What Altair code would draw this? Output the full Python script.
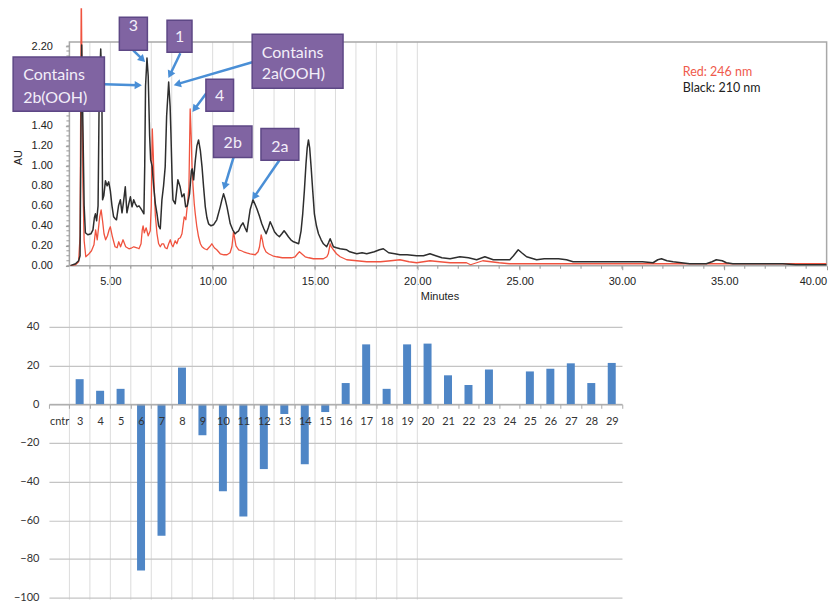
import altair as alt
import pandas as pd
import numpy as np

# ---------------- chromatogram traces (minutes, AU) ----------------
black_t = [3.05, 3.30, 3.45, 3.52, 3.56, 3.60, 3.66, 3.72, 3.78, 3.90, 4.05, 4.15, 4.22, 4.27, 4.33, 4.40,
           4.46, 4.53, 4.58, 4.62, 4.68, 4.76, 4.84, 4.92, 5.00, 5.08, 5.16, 5.24, 5.30, 5.40, 5.49, 5.57,
           5.65, 5.73, 5.81, 5.90, 5.98, 6.06, 6.14, 6.22, 6.31, 6.40, 6.47, 6.56, 6.64, 6.68, 6.72, 6.79,
           6.85, 6.92, 6.97, 7.04, 7.12, 7.20, 7.28, 7.36, 7.44, 7.52, 7.60, 7.68, 7.75, 7.85, 7.92, 7.96,
           8.02, 8.06, 8.17, 8.30, 8.41, 8.50, 8.60, 8.68, 8.76, 8.87, 8.96, 9.00, 9.07, 9.15, 9.23, 9.31,
           9.40, 9.48, 9.56, 9.64, 9.72, 9.80, 9.92, 10.04, 10.20, 10.37, 10.45, 10.53, 10.62, 10.70, 10.86,
           10.98, 11.10, 11.20, 11.27, 11.38, 11.48, 11.58, 11.67, 11.75, 11.83, 11.97, 12.06, 12.16, 12.28,
           12.40, 12.50, 12.61, 12.72, 12.81, 12.92, 13.02, 13.14, 13.26, 13.38, 13.49, 13.60, 13.70, 13.82,
           13.95, 14.08, 14.20, 14.32, 14.40, 14.48, 14.56, 14.62, 14.68, 14.74, 14.81, 14.89, 14.97, 15.07,
           15.17, 15.30, 15.41, 15.57, 15.66, 15.74, 15.82, 15.90, 16.05, 16.23, 16.55, 16.70, 17.04, 17.30,
           17.53, 17.90, 18.15, 18.34, 18.60, 18.90, 19.15, 19.50, 19.97, 20.30, 20.62, 20.90, 21.20, 21.60,
           22.08, 22.50, 22.90, 23.30, 23.71, 24.20, 24.52, 24.70, 24.93, 25.10, 25.34, 25.83, 26.20, 26.47,
           26.90, 27.29, 27.61, 28.30, 28.92, 29.70, 30.54, 31.00, 31.52, 31.75, 31.93, 32.20, 32.50, 32.90,
           33.31, 33.80, 34.12, 34.40, 34.61, 34.90, 35.10, 35.42, 36.00, 37.00, 37.86, 38.50, 39.20, 40.00]
black_v = [0.00, 0.02, 0.05, 0.10, 1.20, 2.21, 1.40, 0.60, 0.33, 0.31, 0.32, 0.36, 0.48, 0.52, 0.45, 0.60,
           1.80, 2.17, 1.90, 0.66, 0.70, 0.85, 0.80, 0.84, 0.75, 0.60, 0.49, 0.47, 0.46, 0.60, 0.66, 0.53,
           0.65, 0.79, 0.53, 0.62, 0.69, 0.59, 0.66, 0.62, 0.59, 0.60, 0.58, 0.55, 0.52, 1.00, 1.80, 2.08,
           1.90, 1.30, 1.06, 1.00, 0.79, 0.62, 0.52, 0.40, 0.37, 0.66, 0.80, 0.99, 1.50, 1.84, 1.60, 1.33,
           0.85, 0.66, 0.62, 0.86, 0.79, 0.69, 0.72, 0.59, 0.60, 0.72, 0.95, 0.97, 0.86, 1.05, 1.20, 1.26,
           1.15, 0.99, 0.78, 0.59, 0.48, 0.42, 0.40, 0.41, 0.46, 0.59, 0.66, 0.72, 0.66, 0.59, 0.42,
           0.36, 0.32, 0.34, 0.35, 0.40, 0.43, 0.38, 0.34, 0.45, 0.56, 0.66, 0.62, 0.57, 0.50,
           0.42, 0.37, 0.32, 0.38, 0.44, 0.39, 0.34, 0.31, 0.29, 0.32, 0.35, 0.32, 0.29, 0.26,
           0.24, 0.23, 0.22, 0.35, 0.52, 0.75, 1.02, 1.18, 1.26, 1.18, 0.99, 0.75, 0.52, 0.40,
           0.32, 0.26, 0.22, 0.19, 0.23, 0.27, 0.23, 0.19, 0.18, 0.17, 0.16, 0.14, 0.12, 0.13,
           0.12, 0.14, 0.16, 0.17, 0.13, 0.12, 0.11, 0.11, 0.10, 0.10, 0.12, 0.10, 0.08, 0.07,
           0.09, 0.08, 0.06, 0.09, 0.06, 0.06, 0.06, 0.10, 0.16, 0.13, 0.09, 0.06, 0.07, 0.07,
           0.07, 0.06, 0.04, 0.04, 0.04, 0.04, 0.04, 0.04, 0.03, 0.06, 0.07, 0.05, 0.04, 0.03,
           0.02, 0.02, 0.02, 0.04, 0.06, 0.05, 0.03, 0.02, 0.02, 0.02, 0.02, 0.01, 0.01, 0.01]

red_t = [3.05, 3.30, 3.45, 3.52, 3.56, 3.58, 3.61, 3.66, 3.72, 3.80, 3.96, 4.08, 4.20, 4.28, 4.36, 4.48,
         4.55, 4.62, 4.69, 4.77, 4.86, 4.94, 5.00, 5.10, 5.23, 5.33, 5.41, 5.50, 5.62, 5.75, 5.91, 6.05,
         6.15, 6.30, 6.40, 6.50, 6.56, 6.60, 6.66, 6.75, 6.85, 6.95, 7.00, 7.05, 7.10, 7.14, 7.20, 7.28,
         7.36, 7.44, 7.52, 7.60, 7.68, 7.77, 7.85, 7.93, 8.00, 8.06, 8.17, 8.25, 8.33, 8.42, 8.50, 8.61,
         8.69, 8.77, 8.84, 8.90, 8.95, 8.99, 9.04, 9.10, 9.15, 9.22, 9.31, 9.40, 9.48, 9.60, 9.72, 9.85,
         9.96, 10.08, 10.20, 10.37, 10.55, 10.70, 10.85, 10.94, 11.02, 11.07, 11.14, 11.27, 11.40, 11.51,
         11.66, 11.83, 12.08, 12.22, 12.29, 12.37, 12.43, 12.49, 12.60, 12.73, 12.93, 13.13, 13.40, 13.62,
         13.85, 14.03, 14.15, 14.24, 14.35, 14.52, 14.70, 14.92, 15.20, 15.41, 15.58, 15.65, 15.74, 15.80,
         15.90, 16.05, 16.23, 16.55, 17.04, 17.53, 18.20, 18.70, 19.15, 19.60, 19.97, 20.62, 21.10, 21.60,
         22.40, 22.60, 23.20, 23.60, 24.00, 24.50, 27.30, 32.00, 36.00, 40.00]
red_v = [0.00, 0.01, 0.04, 0.30, 2.00, 2.80, 2.00, 0.80, 0.25, 0.09, 0.12, 0.15, 0.21, 0.36, 0.26, 0.49,
         0.56, 0.45, 0.32, 0.26, 0.30, 0.36, 0.39, 0.29, 0.19, 0.18, 0.24, 0.19, 0.26, 0.19, 0.17, 0.18,
         0.19, 0.18, 0.17, 0.22, 0.36, 0.40, 0.33, 0.38, 0.30, 0.35, 0.60, 1.37, 1.10, 0.80, 0.50, 0.32,
         0.22, 0.19, 0.22, 0.22, 0.18, 0.17, 0.22, 0.26, 0.21, 0.19, 0.25, 0.22, 0.27, 0.28, 0.32, 0.49,
         0.46, 0.62, 0.79, 1.57, 1.30, 1.00, 0.80, 0.62, 0.52, 0.40, 0.29, 0.22, 0.19, 0.17, 0.16, 0.19,
         0.22, 0.18, 0.16, 0.12, 0.11, 0.11, 0.13, 0.19, 0.34, 0.28, 0.20, 0.16, 0.15, 0.14,
         0.13, 0.12, 0.11, 0.14, 0.19, 0.31, 0.26, 0.19, 0.14, 0.12, 0.10, 0.09, 0.08, 0.08,
         0.08, 0.09, 0.12, 0.14, 0.12, 0.09, 0.08, 0.07, 0.07, 0.07, 0.09, 0.12, 0.22, 0.19,
         0.16, 0.12, 0.09, 0.06, 0.05, 0.04, 0.04, 0.05, 0.06, 0.04, 0.03, 0.05, 0.04, 0.03,
         0.03, 0.01, 0.05, 0.04, 0.03, 0.02, 0.02, 0.02, 0.02, 0.02]

# fraction collection boundaries (minutes)
fraction_edges = list(range(3, 21))

# ---------------- bar chart ----------------
fractions = ["cntr"] + [str(i) for i in range(3, 30)]
change_pct = [0, 13, 7, 8, -86, -68, 19, -16, -45, -58, -33.5, -5, -31, -4, 11, 31, 8, 31,
              31.4, 15, 10, 18, 0, 17, 18.4, 21.2, 11, 21.4]

# y-axis labels that are not hidden behind the "Contains 2b(OOH)" callout
au_labels = [0.0, 0.2, 0.4, 0.6, 0.8, 1.0, 1.2, 1.4, 2.2]

# ---------------- annotations (data units) ----------------
box_x0 = [0.25, 5.44, 7.77, 11.93, 9.67, 10.04, 12.36]
box_x1 = [4.71, 6.81, 8.99, 16.37, 11.02, 11.92, 14.21]
box_y0 = [1.547, 2.157, 2.137, 1.777, 1.547, 1.084, 1.057]
box_y1 = [2.09, 2.487, 2.457, 2.317, 1.867, 1.40, 1.374]

left_text = ["Contains", "2b(OOH)", "Contains", "2a(OOH)"]
left_text_x = [0.74, 0.74, 12.40, 12.40]
left_text_y = [1.907, 1.677, 2.134, 1.924]
center_text = ["3", "1", "4", "2b", "2a"]
center_text_x = [6.13, 8.38, 10.34, 10.98, 13.28]
center_text_y = [2.40, 2.29, 1.70, 1.224, 1.19]

arrow_x1 = [4.71, 6.12, 8.42, 11.93, 9.69, 11.02, 13.26]
arrow_y1 = [1.817, 2.157, 2.127, 2.037, 1.727, 1.084, 1.057]
arrow_x2 = [6.56, 6.71, 7.83, 8.08, 9.00, 10.53, 11.92]
arrow_y2 = [1.807, 2.037, 1.877, 1.807, 1.537, 0.757, 0.657]

legend_text = ["Red: 246 nm", "Black: 210 nm"]
legend_color = ["#ef5a4c", "#222222"]

# ---------------- layout constants ----------------
PXM = 20.49          # px per minute
PXA = 100.0          # px per AU
TOP_W = 38 * PXM
TOP_H = 257.7
BOT_W = 28 * PXM
BOT_H = 271

xs = alt.Scale(domain=[2, 40], nice=False, zero=False)
ys = alt.Scale(domain=[0, 2.577], nice=False, zero=False)

XAX = alt.Axis(
    values=[5, 10, 15, 20, 25, 30, 35, 40], format=".2f", title="Minutes", domain=False,
    tickSize=4, tickColor="#999", labelPadding=6, labelFont="Liberation Sans", labelFontSize=11,
    labelColor="#222", titleFont="Liberation Sans", titleFontSize=11, titleFontWeight="normal",
    titleColor="#222", titleX=391, titleY=31, titleBaseline="middle", grid=False)
YAX = alt.Axis(
    values=au_labels, format=".2f", title="AU", offset=-PXM,
    domain=False, tickSize=4, tickColor="#999", labelPadding=13, labelFont="Liberation Sans",
    labelFontSize=11, labelColor="#222", titleFont="Liberation Sans", titleFontSize=11,
    titleFontWeight="normal", titleColor="#222", titleX=-51, titleY=149, titleBaseline="middle",
    grid=False)


def X(f):
    return alt.X(f, type="quantitative", scale=xs, axis=XAX, title="Minutes")


def Y(f):
    return alt.Y(f, type="quantitative", scale=ys, axis=YAX, title="AU")


frac = alt.Chart(pd.DataFrame({"t": fraction_edges, "top": [2.24] * len(fraction_edges)})).mark_rule(
    color="#dcdcdc", strokeWidth=1
).encode(x=X("t"), y=Y("top"), y2=alt.value(592))

frame = alt.Chart(pd.DataFrame({"x0": [3], "x1": [40], "y0": [0], "y1": [2.24]})).mark_rect(
    fill="transparent", stroke="#a8a8a8", strokeWidth=1.5
).encode(x=X("x0"), x2="x1:Q", y=Y("y0"), y2="y1:Q")

minor_x = alt.Chart(pd.DataFrame({"t": list(range(4, 40))})).mark_rule(color="#999", strokeWidth=1).encode(
    x=X("t"), y=alt.value(TOP_H), y2=alt.value(TOP_H + 3)
)
minor_y = alt.Chart(pd.DataFrame({"v": [round(i * 0.05, 2) for i in range(45)]})).mark_rule(
    color="#999", strokeWidth=1
).encode(y=Y("v"), x=alt.value(PXM - 3), x2=alt.value(PXM))

red_line = alt.Chart(pd.DataFrame({"t": red_t, "v": red_v})).mark_line(
    color="#f0533f", strokeWidth=1.3, clip=True, strokeJoin="round"
).encode(x=X("t"), y=Y("v"))

black_line = alt.Chart(pd.DataFrame({"t": black_t, "v": black_v})).mark_line(
    color="#2e2e2e", strokeWidth=1.5, clip=True, strokeJoin="round"
).encode(x=X("t"), y=Y("v"))

# arrows
ax1, ay1 = np.array(arrow_x1), np.array(arrow_y1)
ax2, ay2 = np.array(arrow_x2), np.array(arrow_y2)
dxp = (ax2 - ax1) * PXM
dyp = -(ay2 - ay1) * PXA
L = np.hypot(dxp, dyp)
ux, uy = dxp / L, dyp / L
ang = (np.degrees(np.arctan2(ux, -uy)) + 360) % 360
hx = ax2 - ux * 4 / PXM
hy = ay2 + uy * 4 / PXA
arrow_df = pd.DataFrame({"x1": ax1, "y1": ay1, "x2": hx, "y2": hy, "ang": ang})

arrow_lines = alt.Chart(arrow_df).mark_rule(color="#4a8fd6", strokeWidth=2.5).encode(
    x=X("x1"), y=Y("y1"), x2="x2:Q", y2="y2:Q"
)
arrow_heads = alt.Chart(arrow_df).mark_point(
    shape="triangle-up", filled=True, color="#4a8fd6", size=70, opacity=1
).encode(x=X("x2"), y=Y("y2"), angle=alt.Angle("ang:Q", scale=None))

boxes = alt.Chart(pd.DataFrame({"x0": box_x0, "x1": box_x1, "y0": box_y0, "y1": box_y1})).mark_rect(
    fill="#8064a2", stroke="#5d4785", strokeWidth=1.5
).encode(x=X("x0"), x2="x1:Q", y=Y("y0"), y2="y1:Q")

ltext = alt.Chart(pd.DataFrame({"s": left_text, "x": left_text_x, "y": left_text_y})).mark_text(
    align="left", baseline="middle", font="Lato", fontSize=16, color="#f3eef9"
).encode(x=X("x"), y=Y("y"), text="s:N")

ctext = alt.Chart(pd.DataFrame({"s": center_text, "x": center_text_x, "y": center_text_y})).mark_text(
    align="center", baseline="middle", font="Lato", fontSize=16, color="#f3eef9"
).encode(x=X("x"), y=Y("y"), text="s:N")

legend = alt.Chart(pd.DataFrame({"s": legend_text, "c": legend_color, "x": [32.97, 32.97],
                                 "y": [1.937, 1.777]})).mark_text(
    align="left", baseline="middle", font="Lato", fontSize=12.5
).encode(x=X("x"), y=Y("y"), text="s:N", color=alt.Color("c:N", scale=None))

top = alt.layer(frac, frame, minor_x, minor_y, red_line, black_line, arrow_lines, arrow_heads,
                boxes, ltext, ctext, legend).properties(width=TOP_W, height=TOP_H)

bar_df = pd.DataFrame({"frac": fractions, "val": change_pct})
bottom = alt.Chart(bar_df).mark_bar(color="#4f86c6", width=8).encode(
    x=alt.X("frac:N", sort=fractions, scale=alt.Scale(paddingInner=0, paddingOuter=0),
            axis=alt.Axis(title=None, offset=-(BOT_H - 40 * BOT_H / 140), labelAngle=0, tickBand="extent",
                          tickSize=4, tickColor="#aaa", domainColor="#a8a8a8", domainWidth=1.2,
                          labelPadding=7, labelFont="Lato", labelFontSize=11, labelColor="#333",
                          grid=False, zindex=1)),
    y=alt.Y("val:Q", scale=alt.Scale(domain=[-100, 40], nice=False),
            axis=alt.Axis(values=list(range(-100, 41, 20)), title=None, domain=False, ticks=False,
                          labelPadding=10, grid=True, gridColor="#c4c4c4", gridWidth=1.2,
                          labelFont="Lato", labelFontSize=11, labelColor="#333")),
).properties(width=BOT_W, height=BOT_H)

chart = alt.vconcat(top, bottom, spacing=61, bounds="flush").properties(
    padding={"left": 4, "top": 0, "right": 0, "bottom": 0}
).configure_view(stroke=None)

chart.save("out.html", embed_options={"renderer": "svg", "actions": False})
